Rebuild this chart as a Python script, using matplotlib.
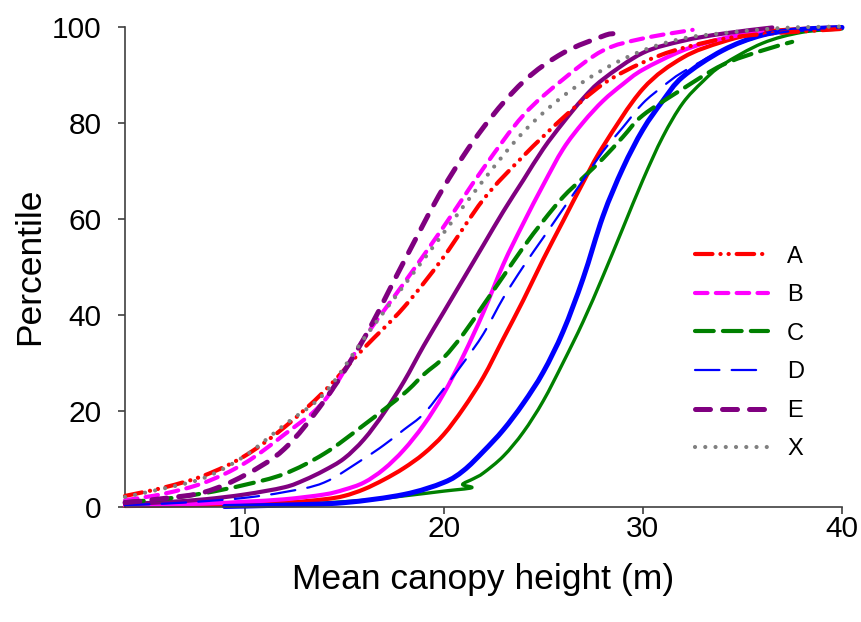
import matplotlib
matplotlib.use("Agg")
import matplotlib.pyplot as plt
from matplotlib.path import Path
from matplotlib.patches import PathPatch
from matplotlib.lines import Line2D
import numpy as np

plt.rcParams['font.family'] = ['Liberation Sans', 'DejaVu Sans']

# ---- data ----
# Legend series
A_x = [4, 6, 8, 10, 12, 14, 16, 18, 20, 22, 24, 26, 28, 30, 32, 35, 40]
A_y = [2.2, 4, 6.5, 10.5, 16.5, 24, 33, 41.5, 52, 64, 73, 81, 88, 92.5, 95.5, 98, 99.5]

B_x = [4, 6, 8, 10, 12, 14, 16, 18, 20, 22, 24, 26, 28, 30, 32.5]
B_y = [1.3, 2.7, 5, 9, 15, 22, 35, 46.5, 58.3, 70.5, 81.5, 89, 95, 97.5, 99.3]

C_x = [4, 6, 8, 10, 12, 14, 16, 18, 19, 20, 21, 22, 23, 24, 25, 26, 27, 28, 29, 30, 32, 34, 36, 37.5]
C_y = [0.9, 1.6, 2.8, 4.5, 6.8, 11, 17, 23.5, 27.5, 31, 36, 42, 48, 54, 59.5, 64.5, 68.5, 72.5, 77, 81.5, 87, 92, 95, 96.8]

D_x = [4, 6, 8, 10, 12, 14, 16, 17, 18, 19, 20, 21, 22, 23, 24, 25, 26, 27, 28, 29, 30, 31, 32, 34, 36, 38, 40]
D_y = [0.3, 0.6, 1.1, 1.8, 3, 5, 10, 12.8, 16, 19.3, 24.5, 30, 36, 43.5, 50, 56, 62, 68, 74, 79, 84, 87.5, 90.5, 95, 98, 99.3, 99.8]

E_x = [4, 6, 8, 10, 12, 14, 16, 18, 20, 22, 24, 26, 28, 28.5]
E_y = [0.8, 1.7, 3, 6.5, 12, 22, 35, 51, 66.5, 79, 88.5, 94.5, 98, 98.5]

X_x = [4, 6, 8, 10, 12, 14, 16, 18, 20, 22, 24, 26, 28, 30, 32, 34, 37, 40]
X_y = [2, 3.8, 6, 10.5, 17, 23.5, 35, 46, 57, 68, 78, 85.5, 91, 95, 97.5, 98.6, 99.7, 100]

# Solid (unlabelled) series
red_x = [4, 8, 12, 14, 15, 16, 17, 18, 19, 20, 21, 22, 23, 24, 25, 26, 27, 28, 30, 32, 34, 36, 38, 40]
red_y = [0.1, 0.3, 0.8, 1.5, 2.2, 3.6, 5.6, 8, 11, 15, 20.5, 27, 35, 43, 51.5, 59.5, 67.5, 75, 87, 93.5, 96.8, 98.8, 99.5, 99.8]

mag_x = [4, 8, 10, 12, 14, 15, 16, 17, 18, 19, 20, 21, 22, 23, 24, 25, 26, 27, 28, 29, 30, 32, 34, 36]
mag_y = [0.2, 0.6, 1, 1.5, 2.5, 3.5, 5, 7.8, 11.8, 17, 23.5, 31.5, 40.5, 50.5, 59, 67, 74.5, 80, 84.5, 88, 91, 95, 97.5, 99]

blue_x = [9, 12, 15, 18, 20, 21, 22, 23, 24, 25, 26, 27, 28, 29, 30, 31, 32, 34, 36, 38, 40]
blue_y = [0, 0.3, 0.8, 2.5, 5, 7.5, 11.5, 16, 21.5, 28, 36.5, 47.5, 60.5, 70.5, 78.5, 84.5, 89.5, 95, 98.2, 99.4, 99.8]

green_x = [10, 13, 16, 18, 20, 21.4, 20.95, 21.5, 22, 23, 24, 25, 26, 27, 28, 29, 30, 31, 32, 33, 34, 36, 38, 40]
green_y = [0, 0.5, 1.3, 2.2, 3.2, 3.9, 4.6, 5.8, 7, 10.5, 15.5, 22, 30, 38.5, 48, 58, 68, 77, 84, 88.5, 92, 96.5, 98.8, 99.5]

purp_x = [4, 6, 8, 10, 12, 13, 14, 15, 16, 17, 18, 19, 20, 21, 22, 23, 24, 25, 26, 27, 28, 30, 32, 34, 36.5]
purp_y = [0.5, 0.9, 1.5, 2.5, 4, 5.5, 7.5, 10, 14, 19.5, 26, 33.5, 40.5, 47.5, 54.5, 61.5, 68, 74.5, 80, 85, 89, 94.5, 97, 98.5, 99.8]

labels = ['A', 'B', 'C', 'D', 'E', 'X']
x_ticks = [10, 20, 30, 40]
y_ticks = [0, 20, 40, 60, 80, 100]


def smooth_path(xs, ys):
    """Smoothed line through the data points (Bezier, like a spreadsheet's smoothed line)."""
    P = np.column_stack([xs, ys]).astype(float)
    n = len(P)
    verts = [P[0]]
    codes = [Path.MOVETO]
    for i in range(n - 1):
        p0 = P[i - 1] if i > 0 else P[i]
        p1, p2 = P[i], P[i + 1]
        p3 = P[i + 2] if i + 2 < n else P[i + 1]
        c1 = p1 + (p2 - p0) / 6.0
        c2 = p2 - (p3 - p1) / 6.0
        verts += [c1, c2, p2]
        codes += [Path.CURVE4] * 3
    return Path(verts, codes)


# ---- figure ----
fig = plt.figure(figsize=(8.61, 6.22), dpi=100)
ax = fig.add_axes([125/861, 1-506.5/622, (842-125)/861, (506.5-26.5)/622])
ax.set_xlim(4, 40)
ax.set_ylim(0, 100)


def draw(xs, ys, color, lw, ls='-', z=2):
    pp = PathPatch(smooth_path(xs, ys), fill=False, edgecolor=color, lw=lw,
                   linestyle=ls, capstyle='round', joinstyle='round',
                   transform=ax.transData, clip_on=False, zorder=z)
    ax.add_patch(pp)


# solid series
draw(green_x, green_y, '#008000', 2.4)
draw(red_x, red_y, '#ff0000', 3.0)
draw(mag_x, mag_y, '#ff00ff', 3.0)
draw(purp_x, purp_y, '#800080', 3.0)
draw(blue_x, blue_y, '#0000ff', 3.6)

# legend series
styles = [
    (A_x, A_y, '#ff0000', 3.0, (0, (4.2, 1.9, 0.05, 1.9, 0.05, 1.9))),
    (B_x, B_y, '#ff00ff', 3.0, (0, (3.0, 2.0))),
    (C_x, C_y, '#008000', 3.0, (0, (4.5, 2.2))),
    (D_x, D_y, '#0000ff', 1.6, (0, (11, 5.5))),
    (E_x, E_y, '#800080', 3.6, (0, (3.0, 2.4))),
    (X_x, X_y, '#808080', 3.0, (0, (0.01, 2.45))),
]
handles = []
for (xs, ys, c, lw, ls), lab in zip(styles, labels):
    draw(xs, ys, c, lw, ls, z=3)
    handles.append(Line2D([], [], color=c, lw=lw, linestyle=ls,
                          dash_capstyle='round', label=lab))

ax.set_xticks(x_ticks)
ax.set_yticks(y_ticks)
for s in ['top', 'right']:
    ax.spines[s].set_visible(False)
for s in ['left', 'bottom']:
    ax.spines[s].set_color('#404040')
    ax.spines[s].set_linewidth(1.2)
ax.tick_params(axis='both', direction='out', length=5, width=1.2, color='#404040',
               labelsize=21.5)
ax.tick_params(axis='x', pad=1)
ax.tick_params(axis='y', pad=12)
ax.set_xlabel('Mean canopy height (m)', fontsize=25.5)
ax.set_ylabel('Percentile', fontsize=25.5)
ax.xaxis.set_label_coords(0.5, (506.5 - 563) / 480)
ax.yaxis.set_label_coords((46 - 125) / 717, 0.5)

leg = ax.legend(handles=handles, loc='upper left', bbox_to_anchor=(0.782, 0.563),
                frameon=False, fontsize=17, handlelength=3.1, handletextpad=0.8,
                labelspacing=0.70, borderaxespad=0)

fig.savefig('out.png', dpi=100)
